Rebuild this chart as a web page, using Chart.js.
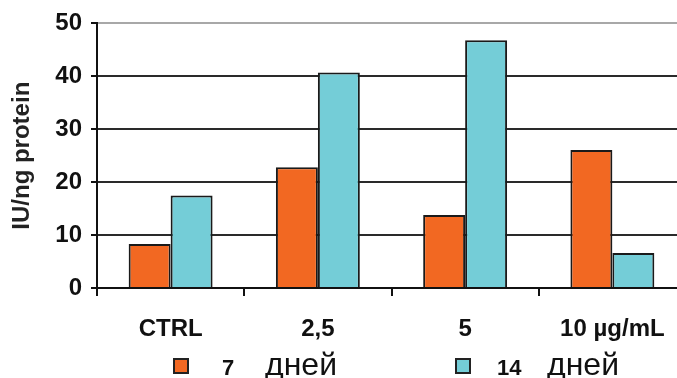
<!DOCTYPE html>
<html>
<head>
<meta charset="utf-8">
<script src="https://cdn.jsdelivr.net/npm/chart.js@4.4.0/dist/chart.umd.min.js"></script>
<style>
	html, body { margin: 0; padding: 0; background: #fff; }
	body { width: 677px; height: 378px; overflow: hidden; position: relative; font-family: 'Liberation Sans', Arial, sans-serif; color: #111; }
	#wrap { position: absolute; left: 0; top: 0; width: 686px; height: 378px; }
	.key { position: absolute; top: 358px; width: 16px; height: 16px; box-sizing: border-box; border: 2px solid #222; }
	.num { position: absolute; top: 357px; font-weight: bold; font-size: 22px; line-height: 22px; }
	.unit { position: absolute; top: 348px; font-size: 32px; line-height: 32px; }
</style>
</head>
<body>
<div id="wrap"><canvas id="chart" width="686" height="378"></canvas></div>
<div id="legend"></div>
<script>

var categories = ['CTRL', '2,5', '5', '10 µg/mL'];
var days7 = [8.3, 22.8, 13.8, 26.1];
var days14 = [17.5, 40.7, 46.8, 6.6];
var seriesDays = ['7', '14'];
var seriesUnit = 'дней';
var yTicks = [0, 10, 20, 30, 40, 50];

var fontFamily = "'Liberation Sans', Arial, sans-serif";

function load() {
	var ctx = document.getElementById('chart');
	var chart = new Chart(ctx, {
		type: 'bar',
		data: {
			labels: categories,
			datasets: [{
				label: seriesDays[0] + ' ' + seriesUnit,
				data: days7,
				backgroundColor: '#f26822',
				borderColor: '#1a1a1a',
				borderWidth: 2
			}, {
				label: seriesDays[1] + ' ' + seriesUnit,
				data: days14,
				backgroundColor: '#74cdd7',
				borderColor: '#1a1a1a',
				borderWidth: 2
			}]
		},
		options: {
			responsive: false,
			animation: false,
			devicePixelRatio: 1,
			layout: { padding: { top: 18, left: 0, right: 0, bottom: 0 } },
			datasets: { bar: { categoryPercentage: 0.57, barPercentage: 1 } },
			plugins: {
				legend: { display: false },
				tooltip: { enabled: false }
			},
			scales: {
				x: {
					grid: { drawOnChartArea: false, tickLength: 8, tickColor: '#111', lineWidth: 2 },
					border: { color: '#111', width: 2 },
					ticks: { color: '#111', padding: 19, font: { family: fontFamily, size: 24, weight: 'bold' } },
					afterFit: function (s) { s.height = 90; }
				},
				y: {
					min: yTicks[0],
					max: yTicks[yTicks.length - 1],
					grid: {
						color: function (c) { return c.tick && c.tick.value === 50 ? '#a8a8a8' : '#2a2a2a'; },
						lineWidth: 2,
						tickLength: 6,
						tickColor: '#111'
					},
					border: { color: '#111', width: 2 },
					ticks: { stepSize: 10, color: '#111', padding: 9, font: { family: fontFamily, size: 24, weight: 'bold' } },
					title: {
						display: true,
						text: 'IU/ng protein',
						color: '#222',
						font: { family: fontFamily, size: 24, weight: 'bold' },
						padding: { top: 8, bottom: 18 }
					},
					afterFit: function (s) { s.width = 97; }
				}
			}
		}
	});

	// legend: bold number + regular word, as in the original slide
	var keyColors = ['#f26822', '#74cdd7'];
	var keyLeft = [173, 455], numLeft = [222, 497], unitLeft = [265, 547];
	var html = '';
	for (var i = 0; i < seriesDays.length; i++) {
		html += '<div class="key" style="left:' + keyLeft[i] + 'px;background:' + keyColors[i] + '"></div>';
		html += '<div class="num" style="left:' + numLeft[i] + 'px">' + seriesDays[i] + '</div>';
		html += '<div class="unit" style="left:' + unitLeft[i] + 'px">' + seriesUnit + '</div>';
	}
	document.getElementById('legend').innerHTML = html;
}

load();
</script>
</body>
</html>
